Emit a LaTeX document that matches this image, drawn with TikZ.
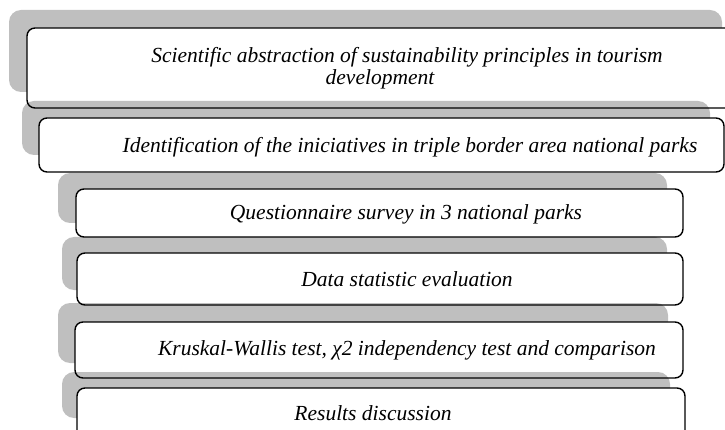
\documentclass[tikz,border=0pt]{standalone}
\usepackage{fontspec}
\setmainfont{Liberation Serif}
\definecolor{backgray}{RGB}{191,191,191}
\begin{document}
\begin{tikzpicture}[x=1pt,y=-1pt,
  backplate/.style={fill=backgray, rounded corners=12pt},
  cardfill/.style={fill=white, rounded corners=8pt},
  cardline/.style={draw=black, line width=1.4pt, rounded corners=8pt},
  steplabel/.style={font=\fontsize{21.5}{22}\selectfont\itshape, inner sep=0pt, anchor=base}]
\useasboundingbox (0,0) rectangle (725,430);
\clip (0,0) rectangle (725,430);
% gray plate and white card of each stage, top to bottom
\foreach \gx/\gy/\gX/\gY/\wx/\wy/\wX/\wY in {
    9/10/722/92/27/28/790/108,
    22/101/710/155/39/118/724/172,
    58/173/667/223/76/189/683/237,
    62/237/667/290/77/253/683/305,
    58/303/668/363/75/322/683/378,
    62/372/670/418/77/388/685/438}{
  \fill[backplate] (\gx,\gy) rectangle (\gX,\gY);
  \fill[cardfill] (\wx,\wy) rectangle (\wX,\wY);
}
% card outlines sit above the plates
\foreach \wx/\wy/\wX/\wY in {
    27/28/790/108,
    39/118/724/172,
    76/189/683/237,
    77/253/683/305,
    75/322/683/378,
    77/388/685/438}{
  \draw[cardline] (\wx,\wy) rectangle (\wX,\wY);
}
% stage labels (a multi-line node sits on the baseline of its last line)
\node[steplabel, align=center] (t1) at (380,85)
  {\hspace*{54pt}Scientific abstraction of sustainability principles in tourism\\development};
\node[steplabel] (t2) at (410,153) {Identification of the iniciatives in triple border area national parks};
\node[steplabel] (t3) at (406,220) {Questionnaire survey in 3 national parks};
\node[steplabel] (t4) at (407,286) {Data statistic evaluation};
\node[steplabel] (t5) at (407,355) {Kruskal-Wallis test, χ2 independency test and comparison};
\node[steplabel] (t6) at (373,420) {Results discussion};
\end{tikzpicture}
\end{document}
